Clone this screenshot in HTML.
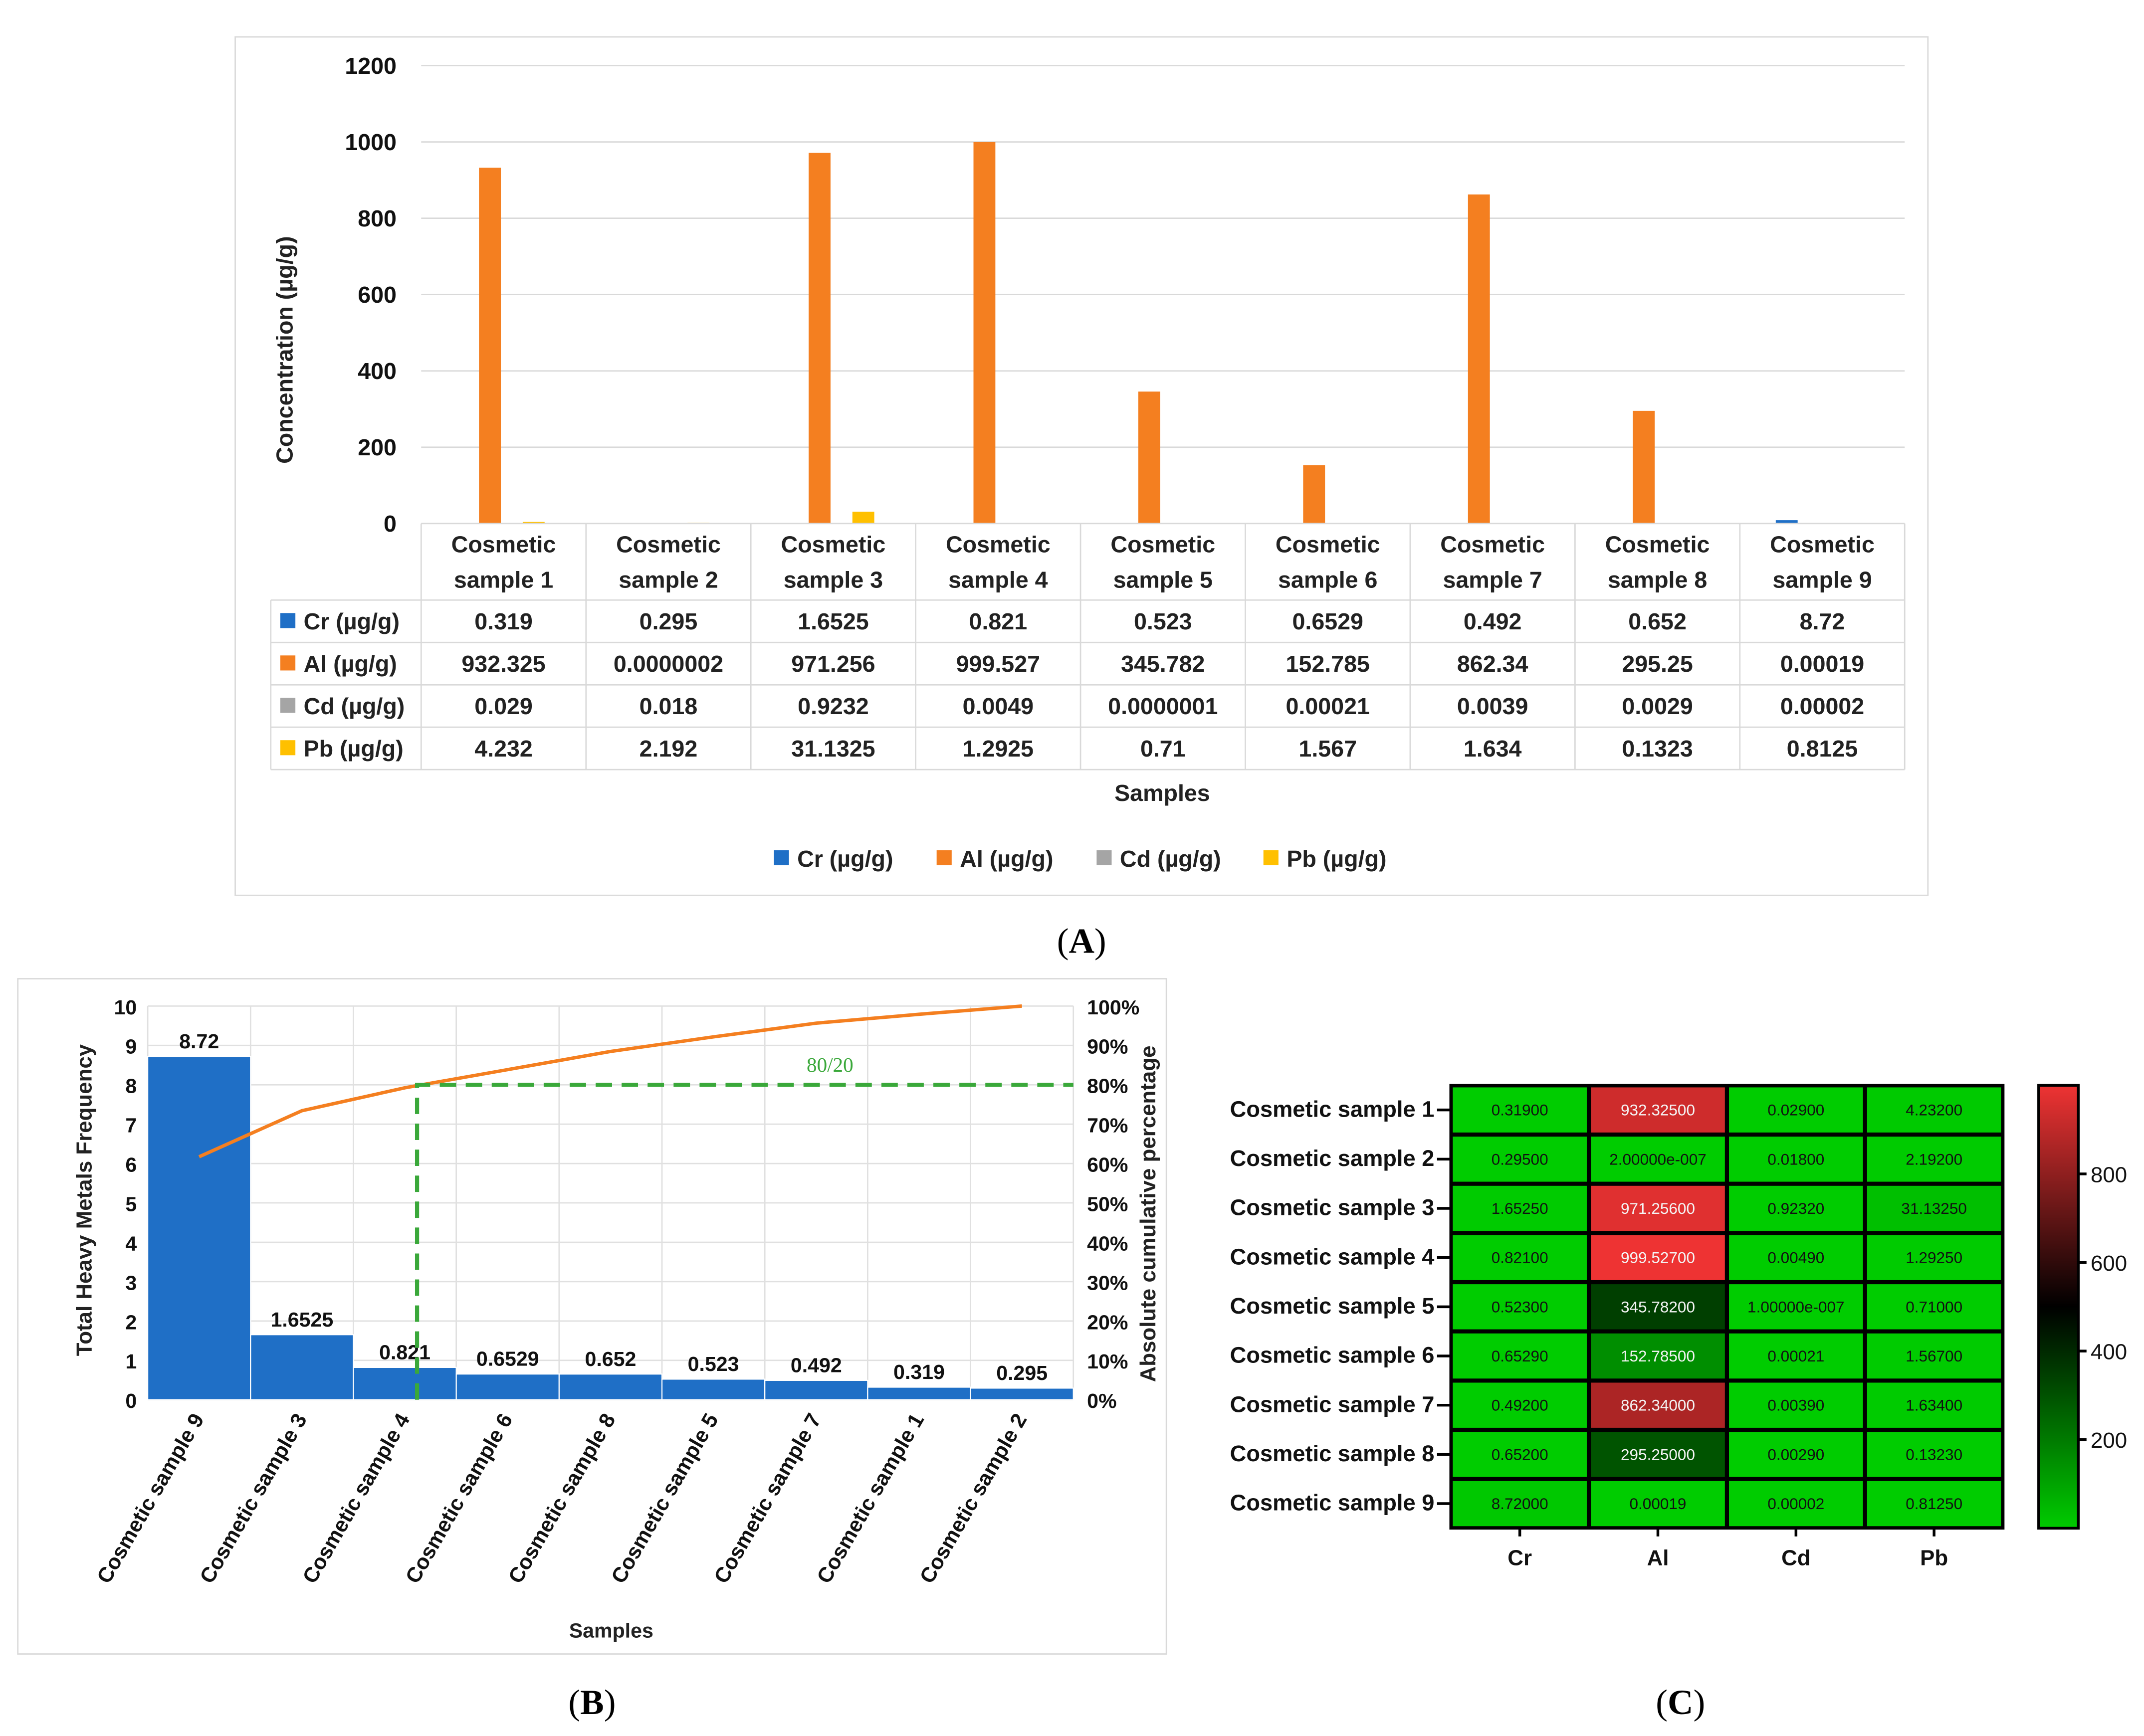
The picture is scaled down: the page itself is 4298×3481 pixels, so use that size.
<!DOCTYPE html>
<html><head><meta charset="utf-8"><style>
html,body{margin:0;padding:0;background:#fff}
svg{display:block}
text{font-family:"Liberation Sans",Arial,sans-serif}
text.serif{font-family:"Liberation Serif",serif}
</style></head><body>
<svg id="fig" xmlns="http://www.w3.org/2000/svg" width="4298" height="3481" viewBox="0 0 1568 1270">
<rect x="0" y="0" width="1568" height="1270" fill="#fff"/>
<g id="pa"></g>
<g id="pb"></g>
<g id="pc"></g>
</svg>
<script>
// ---------- Data ----------
const samples = ["Cosmetic sample 1","Cosmetic sample 2","Cosmetic sample 3","Cosmetic sample 4","Cosmetic sample 5","Cosmetic sample 6","Cosmetic sample 7","Cosmetic sample 8","Cosmetic sample 9"];
const crVals = [0.319,0.295,1.6525,0.821,0.523,0.6529,0.492,0.652,8.72];
const alVals = [932.325,0.0000002,971.256,999.527,345.782,152.785,862.34,295.25,0.00019];
const cdVals = [0.029,0.018,0.9232,0.0049,0.0000001,0.00021,0.0039,0.0029,0.00002];
const pbVals = [4.232,2.192,31.1325,1.2925,0.71,1.567,1.634,0.1323,0.8125];
const crText = ["0.319","0.295","1.6525","0.821","0.523","0.6529","0.492","0.652","8.72"];
const alText = ["932.325","0.0000002","971.256","999.527","345.782","152.785","862.34","295.25","0.00019"];
const cdText = ["0.029","0.018","0.9232","0.0049","0.0000001","0.00021","0.0039","0.0029","0.00002"];
const pbText = ["4.232","2.192","31.1325","1.2925","0.71","1.567","1.634","0.1323","0.8125"];
const yTicksA = [0,200,400,600,800,1000,1200];
const seriesNames = ["Cr (µg/g)","Al (µg/g)","Cd (µg/g)","Pb (µg/g)"];
const seriesColors = ["#1f6fc6","#f47f20","#a5a5a5","#ffc000"];

const paretoCats = ["Cosmetic sample 9","Cosmetic sample 3","Cosmetic sample 4","Cosmetic sample 6","Cosmetic sample 8","Cosmetic sample 5","Cosmetic sample 7","Cosmetic sample 1","Cosmetic sample 2"];
const paretoVals = [8.72,1.6525,0.821,0.6529,0.652,0.523,0.492,0.319,0.295];
const paretoLabels = ["8.72","1.6525","0.821","0.6529","0.652","0.523","0.492","0.319","0.295"];
const yTicksB = [0,1,2,3,4,5,6,7,8,9,10];
const pctTicks = ["0%","10%","20%","30%","40%","50%","60%","70%","80%","90%","100%"];

const heatCols = ["Cr","Al","Cd","Pb"];
const heatText = [
["0.31900","932.32500","0.02900","4.23200"],
["0.29500","2.00000e-007","0.01800","2.19200"],
["1.65250","971.25600","0.92320","31.13250"],
["0.82100","999.52700","0.00490","1.29250"],
["0.52300","345.78200","1.00000e-007","0.71000"],
["0.65290","152.78500","0.00021","1.56700"],
["0.49200","862.34000","0.00390","1.63400"],
["0.65200","295.25000","0.00290","0.13230"],
["8.72000","0.00019","0.00002","0.81250"]];
const cbTicks = [200,400,600,800];

// ---------- helpers ----------
const NS="http://www.w3.org/2000/svg";
function mk(parent,tag,attrs,txt){const e=document.createElementNS(NS,tag);for(const k in attrs)e.setAttribute(k,attrs[k]);if(txt!==undefined)e.textContent=txt;parent.appendChild(e);return e;}

// ---------- Panel A ----------
const pa=document.getElementById('pa');
let e=mk(pa,'rect',{x:172,y:27,width:1238,height:628,fill:'#fff',stroke:'#d9d9d9','stroke-width':1});


const ax0=308, ax1=1393, ay0=383, ay1=48;
const yA=v=>ay0-(v/1200)*(ay0-ay1);
const catW=(ax1-ax0)/9;
yTicksA.forEach(t=>{
  const g=mk(pa,'line',{x1:ax0,x2:ax1,y1:yA(t),y2:yA(t),stroke:'#d9d9d9','stroke-width':1});
  
  
  const l=mk(pa,'text',{x:290,y:yA(t)+6,'text-anchor':'end','font-size':17,'font-weight':'bold',fill:'#111'},String(t));
  
  
});
e=mk(pa,'text',{x:0,y:0,transform:'translate(214,256) rotate(-90)','text-anchor':'middle','font-size':17,'font-weight':'bold',fill:'#222'},'Concentration (µg/g)');


const allSeries=[crVals,alVals,cdVals,pbVals];
const bw=16;
allSeries.forEach((arr,si)=>{
  arr.forEach((v,i)=>{
    const cx=ax0+catW*(i+0.5);
    const x=cx-2*bw+si*bw-2;
    const h=ay0-yA(v);
    const r=mk(pa,'rect',{x:x,y:ay0-h,width:bw,height:Math.max(h,0),fill:seriesColors[si]});
    
    
  });
});
// table
const rowY=[383,439,470,501,532,563];
const tg=mk(pa,'g',{});


for(let r=0;r<rowY.length;r++){
  const x1=r===0?ax0:198;
  mk(tg,'line',{x1:x1,x2:ax1,y1:rowY[r],y2:rowY[r],stroke:'#d9d9d9'});
}
mk(tg,'line',{x1:198,x2:198,y1:439,y2:563,stroke:'#d9d9d9'});
for(let i=0;i<=9;i++){const x=ax0+catW*i;mk(tg,'line',{x1:x,x2:x,y1:383,y2:563,stroke:'#d9d9d9'});}
samples.forEach((s,i)=>{
  const cx=ax0+catW*(i+0.5);
  const t=mk(tg,'text',{x:cx,y:404,'text-anchor':'middle','font-size':17,'font-weight':'bold',fill:'#222'},'Cosmetic');
  
  
  mk(tg,'text',{x:cx,y:430,'text-anchor':'middle','font-size':17,'font-weight':'bold',fill:'#222'},'sample '+(i+1));
});
const tableText=[crText,alText,cdText,pbText];
tableText.forEach((arr,si)=>{
  const yc=(rowY[si+1]+rowY[si+2])/2+6;
  mk(tg,'rect',{x:205,y:yc-12,width:11,height:11,fill:seriesColors[si]});
  const lb=mk(tg,'text',{x:222,y:yc,'font-size':17,'font-weight':'bold',fill:'#222'},seriesNames[si]);
  
  
  arr.forEach((v,i)=>{
    mk(tg,'text',{x:ax0+catW*(i+0.5),y:yc,'text-anchor':'middle','font-size':17,'font-weight':'bold',fill:'#222'},v);
  });
});
e=mk(pa,'text',{x:850,y:586,'text-anchor':'middle','font-size':17,'font-weight':'bold',fill:'#222'},'Samples');


const legX=[566,685,802,924];
seriesNames.forEach((n,si)=>{
  const g=mk(pa,'g',{});
  
  
  mk(g,'rect',{x:legX[si],y:622,width:11,height:11,fill:seriesColors[si]});
  mk(g,'text',{x:legX[si]+17,y:634,'font-size':17,'font-weight':'bold',fill:'#222'},n);
});
e=mk(pa,'text',{x:791,y:697,'text-anchor':'middle','font-size':26,fill:'#000',class:'serif'},'');
e.innerHTML='(<tspan font-weight="bold">A</tspan>)';



// ---------- Panel B ----------
const pb=document.getElementById('pb');
e=mk(pb,'rect',{x:13,y:716,width:840,height:494,fill:'#fff',stroke:'#d9d9d9'});


const bx0=108,bx1=785,by0=1024,by1=736;
const yB=v=>by0-(v/10)*(by0-by1);
const yP=p=>by0-(p/100)*(by0-by1);
const bcw=(bx1-bx0)/9;
yTicksB.forEach((t,k)=>{
  mk(pb,'line',{x1:bx0,x2:bx1,y1:yB(t),y2:yB(t),stroke:'#e0e0e0'});
  const l=mk(pb,'text',{x:100,y:yB(t)+6,'text-anchor':'end','font-size':15,'font-weight':'bold',fill:'#111'},String(t));
  
  
  const r=mk(pb,'text',{x:795,y:yB(t)+6,'font-size':15,'font-weight':'bold',fill:'#111'},pctTicks[k]);
  
  
});
for(let i=0;i<=9;i++){const x=bx0+bcw*i;mk(pb,'line',{x1:x,x2:x,y1:by1,y2:by0,stroke:'#e0e0e0'});}
const total=paretoVals.reduce((a,b)=>a+b,0);
let cum=0;const pts=[];
paretoVals.forEach((v,i)=>{
  const x=bx0+bcw*i;
  const r=mk(pb,'rect',{x:x,y:yB(v),width:bcw,height:by0-yB(v),fill:'#1f6fc6',stroke:'#fff','stroke-width':0.8});
  
  
  const l=mk(pb,'text',{x:x+bcw/2,y:yB(v)-6,'text-anchor':'middle','font-size':15,'font-weight':'bold',fill:'#111'},paretoLabels[i]);
  
  
  cum+=v;pts.push([x+bcw/2,yP(cum/total*100)]);
  const c=mk(pb,'text',{x:0,y:0,transform:`translate(${x+bcw/2+4},${by0+14}) rotate(-60)`,'text-anchor':'end','font-size':15.5,'font-weight':'bold',fill:'#111'},paretoCats[i]);
  
  
});
e=mk(pb,'polyline',{points:pts.map(p=>p.join(',')).join(' '),fill:'none',stroke:'#f47f20','stroke-width':2.5});


e=mk(pb,'path',{d:`M305,${by0} L305,${yP(80)} L${bx1},${yP(80)}`,fill:'none',stroke:'#3aa83a','stroke-width':3,'stroke-dasharray':'12,7'});


e=mk(pb,'text',{x:607,y:784,'text-anchor':'middle','font-size':15,fill:'#3aa83a',class:'serif'},'80/20');


e=mk(pb,'text',{x:0,y:0,transform:'translate(67,878) rotate(-90)','text-anchor':'middle','font-size':16,'font-weight':'bold',fill:'#222'},'Total Heavy Metals Frequency');


e=mk(pb,'text',{x:0,y:0,transform:'translate(845,888) rotate(-90)','text-anchor':'middle','font-size':16,'font-weight':'bold',fill:'#222'},'Absolute cumulative percentage');


e=mk(pb,'text',{x:447,y:1198,'text-anchor':'middle','font-size':15,'font-weight':'bold',fill:'#222'},'Samples');


e=mk(pb,'text',{x:433,y:1254,'text-anchor':'middle','font-size':26,fill:'#000',class:'serif'},'');
e.innerHTML='(<tspan font-weight="bold">B</tspan>)';



// ---------- Panel C ----------
const pc=document.getElementById('pc');
const hx0=1061,hy0=794,cw=101,ch=36;
function heatColor(v){
  const t=Math.max(0,Math.min(1,v/1000));
  if(t<0.5){const f=1-2*t;return `rgb(0,${Math.round(204*f)},0)`;}
  const f=2*t-1;return `rgb(${Math.round(238*f)},${Math.round(51*f)},${Math.round(51*f)})`;
}
mk(pc,'rect',{x:hx0-1,y:hy0-1,width:cw*4+2,height:ch*9+2,fill:'#000'});
allSeries.forEach((arr,ci)=>{
  arr.forEach((v,ri)=>{
    const x=hx0+ci*cw,y=hy0+ri*ch;
    const r=mk(pc,'rect',{x:x+1.5,y:y+1.5,width:cw-3,height:ch-3,fill:heatColor(v)});
    
    
    const dark=v>120;
    mk(pc,'text',{x:x+cw/2,y:y+ch/2+4,'text-anchor':'middle','font-size':11.5,fill:dark?'#f4f4f4':'#111'},heatText[ri][ci]);
  });
});
samples.forEach((s,ri)=>{
  const y=hy0+ri*ch+ch/2;
  mk(pc,'line',{x1:hx0-10,x2:hx0,y1:y,y2:y,stroke:'#000','stroke-width':2});
  const l=mk(pc,'text',{x:hx0-12,y:y+5,'text-anchor':'end','font-size':16.5,'font-weight':'bold',fill:'#111'},s);
  
  
});
heatCols.forEach((c,ci)=>{
  const x=hx0+ci*cw+cw/2;
  mk(pc,'line',{x1:x,x2:x,y1:hy0+ch*9,y2:hy0+ch*9+6,stroke:'#000','stroke-width':2});
  const l=mk(pc,'text',{x:x,y:1145,'text-anchor':'middle','font-size':16,'font-weight':'bold',fill:'#111'},c);
  
  
});
// colorbar
const defs=mk(pc,'defs',{});
const lg=mk(defs,'linearGradient',{id:'cb',x1:0,y1:1,x2:0,y2:0});
[0,0.25,0.5,0.75,1].forEach(s=>mk(lg,'stop',{offset:s,'stop-color':heatColor(s*1000)}));
const cbx=1491,cby0=1118,cby1=794;
e=mk(pc,'rect',{x:cbx,y:cby1,width:29,height:cby0-cby1,fill:'url(#cb)',stroke:'#000','stroke-width':2});


cbTicks.forEach(t=>{
  const y=cby0-(t/1000)*(cby0-cby1);
  mk(pc,'line',{x1:cbx+29,x2:cbx+35,y1:y,y2:y,stroke:'#000','stroke-width':2});
  const l=mk(pc,'text',{x:cbx+38,y:y+6,'font-size':16,fill:'#111'},String(t));
  
  
});
e=mk(pc,'text',{x:1229,y:1254,'text-anchor':'middle','font-size':26,fill:'#000',class:'serif'},'');
e.innerHTML='(<tspan font-weight="bold">C</tspan>)';


</script>
</body></html>
